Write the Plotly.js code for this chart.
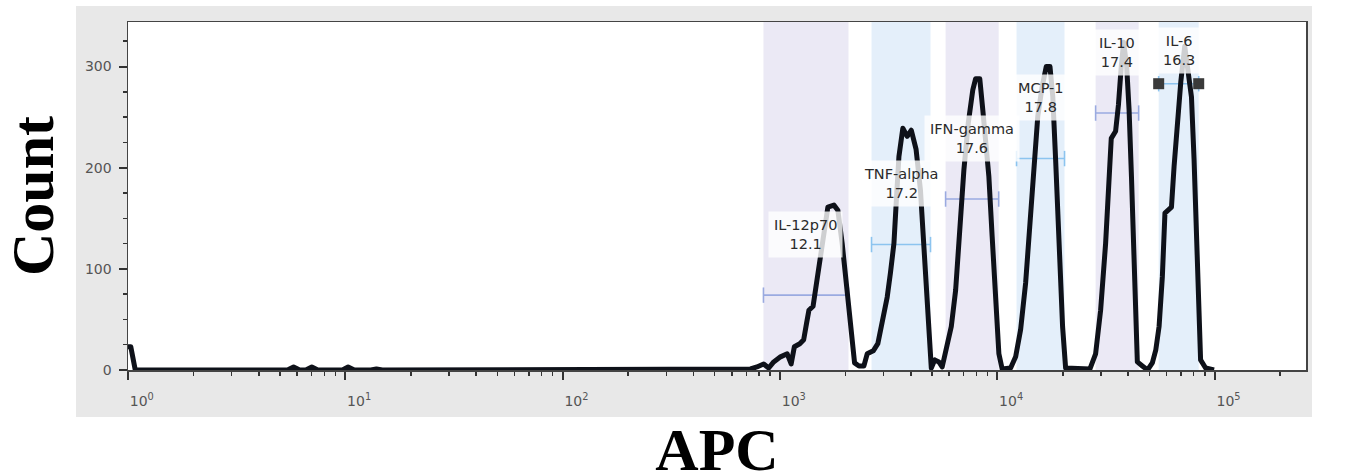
<!DOCTYPE html>
<html>
<head>
<meta charset="utf-8">
<script src="https://cdn.plot.ly/plotly-3.0.1.min.js"></script>
<style>
  html, body { margin: 0; padding: 0; background: #fff; overflow: hidden; }
  #frame { position: absolute; left: 76px; top: 6px; width: 1236px; height: 411px; background: #e8e8e8; }
  #chart { position: absolute; left: 0; top: 0; width: 1346px; height: 490px; }
  .scatterlayer .js-line { stroke-linejoin: round !important; }
</style>
</head>
<body>
<div id="frame"></div>
<div id="chart"></div>
<script>
// Bead populations gated on the APC channel
const gateNames = ['IL-12p70', 'TNF-alpha', 'IFN-gamma', 'MCP-1', 'IL-10', 'IL-6'];
const gatePercent = [12.1, 17.2, 17.6, 17.8, 17.4, 16.3];
const gateLow = [839, 2636, 5778, 12250, 28320, 55230];
const gateHigh = [2065, 4924, 10140, 20370, 44670, 84400];
const gateLevel = [74, 124, 169, 209, 254, 283];
const selectedGate = 'IL-6';

// Histogram of APC intensity (channel value, event count)
const apcValues = [
  1.0, 1.03, 1.08,
  5.42, 5.78, 6.16, 6.58, 7.01, 7.47,
  9.7, 10.3, 11.0, 13.1, 13.9, 14.8, 15.8, 16.9, 17.9,
  658, 731, 783, 841, 887, 935, 1005, 1079, 1125, 1164, 1233, 1285, 1324, 1358, 1419,
  1483, 1535, 1592, 1660, 1770, 1845, 1932, 2023, 2109, 2203, 2307, 2432,
  2518, 2685, 2818, 2985, 3112, 3221, 3342, 3436, 3524, 3673, 3846, 4018, 4227, 4426,
  4592, 4753, 4966, 5152, 5383, 5572,
  5875, 6138, 6427, 6714, 7015, 7345, 7709, 7943, 8299, 8570, 8892, 9141, 9462, 9817,
  10162, 10520, 11508,
  12134, 12794, 13490, 14125, 14723, 15346, 16069, 16788, 17458, 17989, 18535, 19187,
  19953, 20606, 26669,
  28314, 29854, 31477, 32659, 33420, 34995, 36058, 37154, 38107, 39355, 40365, 41400,
  42267, 43251, 44055, 46452, 49091,
  51642, 53580, 55463, 57412, 59020, 63241, 65013, 67298, 69823, 72778, 75858, 78163,
  80353, 82414, 84140, 86099, 90782, 95940, 99300
];
const countValues = [
  23, 23, 0,
  0, 3, 0, 0, 3, 0,
  0, 3, 0, 0, 1, 0, 0, 1, 0,
  0, 1, 3, 6, 2, 8, 13, 16, 6, 23, 26, 30, 46, 59, 63,
  92, 115, 138, 161, 163, 158, 125, 82, 40, 7, 4, 4,
  16, 19, 26, 53, 72, 96, 125, 171, 211, 239, 231, 237, 218, 178,
  125, 59, 2, 10, 8, 3,
  26, 43, 79, 142, 198, 244, 277, 288, 288, 257, 224, 191, 132, 69,
  16, 1, 2,
  13, 40, 86, 145, 204, 251, 280, 300, 300, 270, 208, 125,
  43, 2, 1,
  16, 59, 125, 191, 229, 236, 262, 300, 324, 300, 257, 191,
  125, 59, 8, 4, 0,
  7, 20, 43, 92, 155, 161, 201, 244, 285, 320, 290, 270,
  208, 125, 59, 10, 2, 1, 0
];

// Axis ticks
const xTickVals = [1, 10, 100, 1000, 10000, 100000];
const xTickText = ['10<sup>0</sup>', '10<sup>1</sup>', '10<sup>2</sup>', '10<sup>3</sup>', '10<sup>4</sup>', '10<sup>5</sup>'];
const yTickVals = [0, 100, 200, 300];

const xMinor = [];
xTickVals.forEach(function (d) {
  for (let k = 2; k <= 9; k++) xMinor.push(d * k);
});

const gateFill = ['rgba(221,218,238,0.6)', 'rgba(206,226,245,0.55)'];
const gateBar = ['#9aaae0', '#8cc4ef'];
const log = Math.log10;

const traces = [];

// Gate range bars with end caps
gateNames.forEach(function (name, i) {
  traces.push({
    type: 'scatter',
    mode: 'lines+markers',
    x: [gateLow[i], gateHigh[i]],
    y: [gateLevel[i], gateLevel[i]],
    line: { color: gateBar[i % 2], width: 1.6 },
    marker: { symbol: 'line-ns-open', size: 11, line: { color: gateBar[i % 2], width: 1.6 } },
    hoverinfo: 'skip',
    showlegend: false
  });
});

// Histogram outline
traces.push({
  type: 'scatter',
  mode: 'lines',
  x: apcValues,
  y: countValues,
  line: { color: '#0e1119', width: 5 },
  showlegend: false
});

// Handles on the selected gate
const sel = gateNames.indexOf(selectedGate);
traces.push({
  type: 'scatter',
  mode: 'markers',
  x: [gateLow[sel], gateHigh[sel]],
  y: [gateLevel[sel], gateLevel[sel]],
  marker: { symbol: 'square', size: 11, color: '#3a3a3a' },
  hoverinfo: 'skip',
  showlegend: false
});

// Gate bands (shape positions on a log axis are given in data units)
const shapes = gateNames.map(function (name, i) {
  return {
    type: 'rect', layer: 'below',
    xref: 'x', yref: 'paper',
    x0: gateLow[i], x1: gateHigh[i], y0: 0, y1: 1,
    fillcolor: gateFill[i % 2], line: { width: 0 }
  };
});

const annotations = gateNames.map(function (name, i) {
  return {
    xref: 'x', yref: 'y',
    x: (log(gateLow[i]) + log(gateHigh[i])) / 2,
    y: Math.min(gateLevel[i] + 60, 316),
    text: name + '<br>' + gatePercent[i].toFixed(1),
    showarrow: false,
    font: { family: 'DejaVu Sans', size: 14.5, color: '#2a2a2a' },
    bgcolor: 'rgba(255,255,255,0.8)',
    borderpad: 5,
    xanchor: 'center', yanchor: 'middle'
  };
});

const layout = {
  width: 1346, height: 490,
  margin: { l: 128, r: 40, t: 22, b: 120, pad: 0 },
  paper_bgcolor: 'rgba(0,0,0,0)',
  plot_bgcolor: '#ffffff',
  showlegend: false,
  xaxis: {
    type: 'log',
    range: [0, 5.42],
    tickmode: 'array', tickvals: xTickVals, ticktext: xTickText,
    ticks: 'outside', ticklen: 8, tickwidth: 2, tickcolor: '#333',
    minor: { tickmode: 'array', tickvals: xMinor, ticks: 'outside', ticklen: 4, tickwidth: 1.5, tickcolor: '#333' },
    ticklabelposition: 'outside right',
    ticklabelstandoff: 18,
    tickfont: { family: 'DejaVu Sans', size: 14, color: '#555' },
    showline: true, linecolor: '#444', linewidth: 1.5, mirror: true,
    showgrid: false, zeroline: false,
    title: { text: 'APC', font: { family: 'Liberation Serif', size: 60, color: '#000', weight: 'bold' }, standoff: 19 }
  },
  yaxis: {
    range: [0, 344],
    tickmode: 'array', tickvals: yTickVals,
    ticks: 'outside', ticklen: 8, tickwidth: 2, tickcolor: '#333',
    minor: { dtick: 25, ticks: 'outside', ticklen: 4, tickwidth: 1.5, tickcolor: '#333' },
    ticklabelstandoff: 4,
    tickfont: { family: 'DejaVu Sans', size: 14, color: '#555' },
    showline: true, linecolor: '#444', linewidth: 1.5, mirror: true,
    showgrid: false, zeroline: false,
    title: { text: 'Count', font: { family: 'Liberation Serif', size: 60, color: '#000', weight: 'bold' }, standoff: 17 }
  },
  shapes: shapes,
  annotations: annotations
};

Plotly.newPlot('chart', traces, layout, { displayModeBar: false, staticPlot: true });
</script>
</body>
</html>
